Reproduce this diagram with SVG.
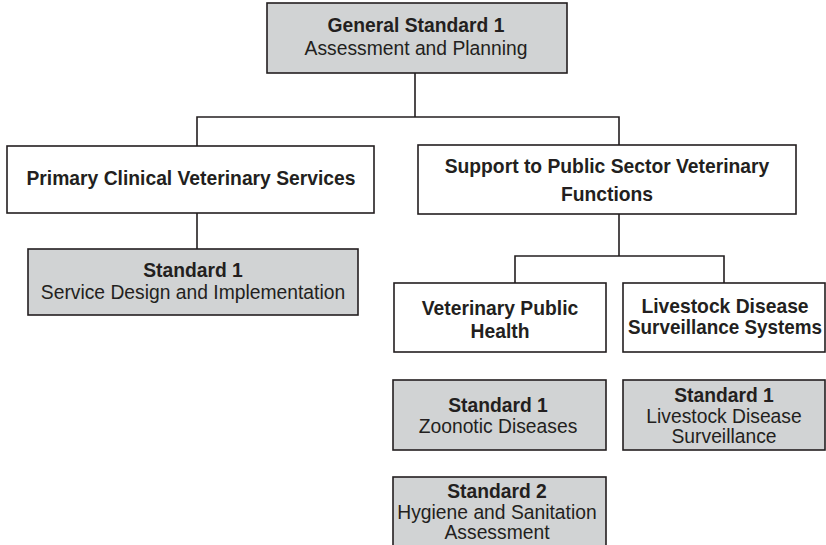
<svg xmlns="http://www.w3.org/2000/svg" width="826" height="545" viewBox="0 0 826 545">
<style>
.box{fill:#ffffff;stroke:#231f20;stroke-width:1.6}
.std{fill:#d1d3d4;stroke:#231f20;stroke-width:1.6}
.con{fill:none;stroke:#231f20;stroke-width:1.6}
text{font-family:"Liberation Sans",Arial,sans-serif;font-size:19.3px;fill:#231f20;text-anchor:middle}
.b{font-weight:bold}
</style>
<rect width="826" height="545" fill="#ffffff"/>
<g id="connectors">
<path class="con" d="M415,73 V117 M197,146 V117 H619 V145"/>
<path class="con" d="M197,213 V249"/>
<path class="con" d="M619,214 V256 M515,283 V256 H724 V283"/>
</g>
<g id="general">
<rect class="std" x="267" y="3" width="300" height="70"/>
<text x="416" y="32" class="b">General Standard 1</text>
<text x="416" y="55">Assessment and Planning</text>
</g>
<g id="primary">
<rect class="box" x="7" y="146" width="367" height="67"/>
<text x="191" y="185" class="b">Primary Clinical Veterinary Services</text>
</g>
<g id="primary-std1">
<rect class="std" x="28" y="249" width="330" height="66"/>
<text x="193" y="277" class="b">Standard 1</text>
<text x="193" y="299">Service Design and Implementation</text>
</g>
<g id="support">
<rect class="box" x="418" y="145" width="378" height="69"/>
<text x="607" y="173" class="b">Support to Public Sector Veterinary</text>
<text x="607" y="201" class="b">Functions</text>
</g>
<g id="vph">
<rect class="box" x="394" y="283" width="212" height="69"/>
<text x="500" y="315" class="b">Veterinary Public</text>
<text x="500" y="338" class="b">Health</text>
</g>
<g id="ldss">
<rect class="box" x="623" y="283" width="202" height="69"/>
<text x="725" y="313" class="b">Livestock Disease</text>
<text x="725" y="334" class="b" textLength="194" lengthAdjust="spacingAndGlyphs">Surveillance Systems</text>
</g>
<g id="vph-std1">
<rect class="std" x="393" y="380" width="213" height="70"/>
<text x="498" y="412" class="b">Standard 1</text>
<text x="498" y="433">Zoonotic Diseases</text>
</g>
<g id="ldss-std1">
<rect class="std" x="623" y="380" width="202" height="70"/>
<text x="724" y="402" class="b">Standard 1</text>
<text x="724" y="423">Livestock Disease</text>
<text x="724" y="443">Surveillance</text>
</g>
<g id="vph-std2">
<rect class="std" x="393" y="477" width="213" height="80"/>
<text x="497" y="498" class="b">Standard 2</text>
<text x="497" y="519">Hygiene and Sanitation</text>
<text x="497" y="539">Assessment</text>
</g>
</svg>
